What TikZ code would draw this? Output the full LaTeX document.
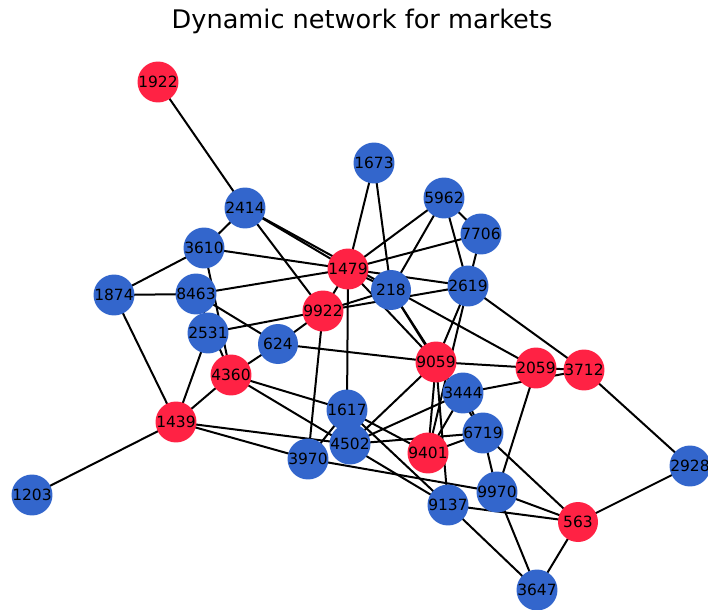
\documentclass[tikz,border=0pt]{standalone}
\usepackage{fontspec}
\setmainfont{DejaVu Sans}
\definecolor{nblue}{HTML}{3366CC}
\definecolor{nred}{HTML}{FF2244}
\pgfdeclarelayer{links}
\pgfsetlayers{links,main}
\begin{document}
\begin{tikzpicture}[x=0.75pt,y=-0.75pt,
  vtx/.style={circle,inner sep=0pt,minimum size=30pt,text=black,font=\fontsize{11.6}{12}\selectfont},
  bv/.style={vtx,fill=nblue},
  rv/.style={vtx,fill=nred},
  link/.style={line width=1.5pt,black}]
\useasboundingbox (0,0) rectangle (708,610);
\node[font=\fontsize{19.2}{22}\selectfont] (title) at (362,21) {Dynamic network for markets};
% vertices: name / x / y / style
\foreach \n/\x/\y/\s in {
  1922/158/82/rv, 2414/245/208/bv, 1673/374/163/bv, 5962/444/198/bv,
  7706/481/234/bv, 3610/204/248/bv, 1479/348/269/rv, 218/391/290/bv,
  2619/468/286/bv, 1874/114/295/bv, 8463/196/294/bv, 9922/323/311/rv,
  2531/208/333/bv, 624/278/344/bv, 4360/231/375/rv, 9059/436/362/rv,
  2059/536/368/rv, 3712/584/370/rv, 3444/463/393/bv, 1617/347/410/bv,
  1439/176/422/rv, 6719/483/433/bv, 4502/350/444/bv, 9401/428/453/rv,
  3970/308/459/bv, 2928/690/466/bv, 1203/32/495/bv, 9970/497/492/bv,
  9137/448/505/bv, 563/578/522/rv, 3647/537/590/bv}
  \node[\s] (n\n) at (\x,\y) {\n};
% links, drawn beneath the vertices
\begin{pgfonlayer}{links}
\foreach \a/\b in {
  1922/2414, 2414/3610, 2414/1479, 2414/2059, 2414/9922,
  1673/1479, 1673/218, 5962/1479, 5962/218, 5962/7706, 5962/2619,
  7706/1479, 7706/2619, 3610/1874, 3610/1479, 3610/4360,
  1874/8463, 1874/1439, 8463/1479, 8463/624, 8463/4360,
  1479/218, 1479/2619, 1479/9922, 1479/1617, 1479/9059,
  218/9059, 218/6719, 9922/218, 9922/2619, 2531/9922, 9922/624, 9922/3970,
  2531/1439, 4360/624, 4360/1439, 4360/1617, 4360/9137, 624/9059,
  2619/3712, 2619/9059, 2619/9401, 9059/2059, 2059/3712, 3444/3712,
  9059/4502, 9059/9401, 9059/9137, 2059/9970, 3712/2928,
  1439/1203, 1439/4502, 1439/3970, 3970/1617, 3970/9970,
  1617/9401, 1617/9137, 4502/3444, 4502/6719, 3444/9401, 3444/6719,
  9401/6719, 6719/9970, 6719/563, 9970/563, 9970/3647,
  9137/563, 9137/3647, 563/3647, 563/2928}
  \draw[link] (n\a.center) -- (n\b.center);
\end{pgfonlayer}
\end{tikzpicture}
\end{document}
